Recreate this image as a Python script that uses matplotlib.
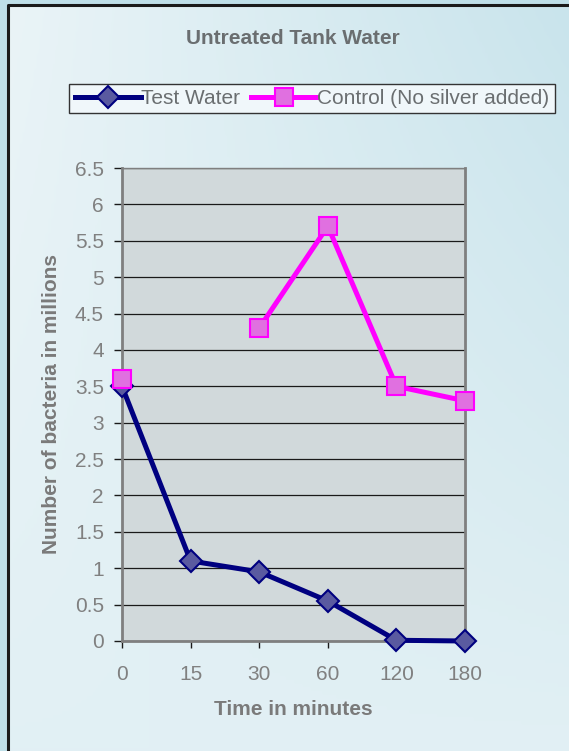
import numpy as np
import matplotlib
matplotlib.use("Agg")
import matplotlib.pyplot as plt
from matplotlib.patches import Rectangle
from matplotlib.colors import LinearSegmentedColormap

plt.rcParams['font.family'] = ['Liberation Sans', 'DejaVu Sans']

categories = ["0", "15", "30", "60", "120", "180"]
test_water = [3.5, 1.1, 0.95, 0.55, 0.01, 0.0]
control = [3.6, np.nan, 4.3, 5.7, 3.5, 3.3]
y_ticks = [0, 0.5, 1, 1.5, 2, 2.5, 3, 3.5, 4, 4.5, 5, 5.5, 6, 6.5]
y_tick_labels = ["0", "0.5", "1", "1.5", "2", "2.5", "3", "3.5", "4", "4.5", "5", "5.5", "6", "6.5"]

W, H = 569, 751
fig = plt.figure(figsize=(W / 100, H / 100), dpi=100)

# background
bg = fig.add_axes([0, 0, 1, 1], zorder=-10)
bg.set_xlim(0, W)
bg.set_ylim(H, 0)
bg.axis('off')
bg.add_patch(Rectangle((0, 0), W, H, facecolor='#bfdfe8', edgecolor='none'))
yy, xx = np.mgrid[0:1:200j, 0:1:200j]
val = 0.6 * xx * (1 - yy) + 0.15 * yy
cmap_bg = LinearSegmentedColormap.from_list('bg', ['#eaf4f7', '#c9e4ec'])
bg.imshow(val, extent=(8, W, H, 5), cmap=cmap_bg, aspect='auto', zorder=1, vmin=0, vmax=0.6)
bg.plot([8, 8, W], [H, 5, 5], color='#1a1a1a', lw=2.2, zorder=2, solid_capstyle='butt')

ax = fig.add_axes([122 / W, 1 - 641 / H, (465 - 122) / W, (641 - 168) / H])
ax.set_facecolor('#d1d9db')
x = np.arange(len(categories))

ax.set_xlim(0, len(categories) - 1)
ax.set_ylim(0, 6.5)
ax.set_yticks(y_ticks)
ax.set_yticklabels(y_tick_labels)
ax.set_xticks(x)
ax.set_xticklabels(categories)
ax.yaxis.grid(True, color='#1a1a1a', lw=0.9)
ax.set_axisbelow(True)

for s in ['left', 'bottom', 'right']:
    ax.spines[s].set_color('#7f7f7f')
    ax.spines[s].set_linewidth(2)
ax.spines['top'].set_color('#7f7f7f')
ax.spines['top'].set_linewidth(1)

ax.tick_params(axis='both', colors='#1a1a1a', labelcolor='#808080', labelsize=15,
               direction='out', length=5, width=1)
ax.tick_params(axis='x', pad=12)
ax.tick_params(axis='y', pad=7, length=6)

ax.plot(x, test_water, color='#000080', lw=3.6, marker='D', markersize=11,
        markerfacecolor='#5a5aa0', markeredgecolor='#000080', markeredgewidth=1.5,
        clip_on=False, zorder=5, label='Test Water')
ax.plot(x, control, color='#ff00ff', lw=3.6, marker='s', markersize=12.5,
        markerfacecolor='#e070e0', markeredgecolor='#ff00ff', markeredgewidth=1.5,
        clip_on=False, zorder=6, label='Control (No silver added)')

ax.set_xlabel('Time in minutes', fontsize=15, fontweight='bold', color='#7a7a7a', labelpad=12)
ax.set_ylabel('Number of bacteria in millions', fontsize=15, fontweight='bold', color='#7a7a7a', labelpad=10)

fig.text(293 / W, 1 - 38 / H, 'Untreated Tank Water', ha='center', va='center',
         fontsize=15, fontweight='bold', color='#6a6e70')

leg = fig.legend(loc='center', bbox_to_anchor=(312 / W, 1 - 98.5 / H), ncol=2,
                 fontsize=15, frameon=True, fancybox=False, handlelength=3.2,
                 handletextpad=0.0, columnspacing=0.5, borderpad=0.25,
                 edgecolor='#333333', facecolor='#f0f7fa', framealpha=1)
leg.get_frame().set_linewidth(1)
for t in leg.get_texts():
    t.set_color('#6a6e70')

fig.savefig('out.png', dpi=100)
